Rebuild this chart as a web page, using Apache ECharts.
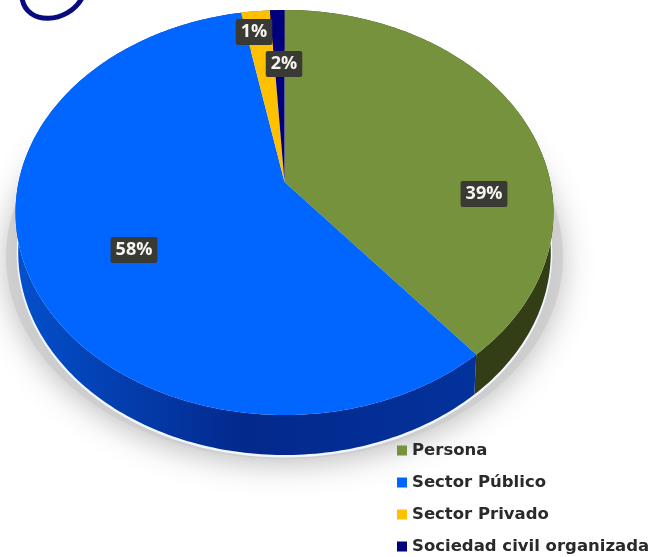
<!DOCTYPE html>
<html>
<head>
<meta charset="utf-8">
<style>html,body{margin:0;padding:0;background:#fff}#c{width:652px;height:557px;filter:blur(0.5px)}</style>
<script src="https://cdn.jsdelivr.net/npm/echarts@6/dist/echarts.min.js"></script>
</head>
<body>
<div id="c"></div>
<script>
const categories = ['Persona', 'Sector Público', 'Sector Privado', 'Sociedad civil organizada'];
// Wedge sizes as drawn in the picture (the yellow wedge is visibly wider than the navy one)
const values = [39, 58, 2, 1];
// Printed labels, as they read in the picture, in drawing order
const labels = ['39%', '58%', '1%', '2%'];
const faceColors = ['#76923c', '#0066ff', '#ffc000', '#00007f'];
const wallColors = ['#333d16', '#03329c', '#8a6a00', '#00003f'];

// Perspective view of the disc (layout only)
const view = { cx: 284.5, cy: 182, a: 265.9, b: 197.9, k: 0.1506, depth: 40, shrink: 0.99 };
const labelSpots = [[484, 194], [134, 250], [254, 32], [284, 64]];

const total = values.reduce((s, v) => s + v, 0);
const starts = [];
values.reduce((acc, v, i) => { starts[i] = acc; return acc + v; }, 0);

function project(deg, drop, scale) {
  const t = deg * Math.PI / 180, u = Math.sin(t), v = -Math.cos(t);
  const w = 1 - view.k * v;
  return [view.cx + scale * view.a * u / w, view.cy + view.b * v / w + drop];
}
function arc(from, to, drop, scale) {
  const pts = [], n = Math.max(2, Math.ceil(Math.abs(to - from)));
  for (let i = 0; i <= n; i++) pts.push(project(from + (to - from) * i / n, drop, scale));
  return pts;
}
function sliceAngles(i) {
  return [starts[i] / total * 360, (starts[i] + values[i]) / total * 360];
}

const shadowSeries = {
  type: 'custom', name: 'sombra', coordinateSystem: 'none', silent: true, z: 1,
  data: [[1]],
  renderItem: () => ({
    type: 'group',
    children: [
      { type: 'polygon', shape: { points: arc(0, 360, view.depth + 4, 1.035) },
        style: { fill: 'rgba(205,205,205,0.85)', shadowBlur: 30, shadowColor: 'rgba(175,175,175,0.95)', shadowOffsetY: 5 } },
      { type: 'polygon', shape: { points: arc(0, 360, view.depth + 1, view.shrink) },
        style: { fill: '#f2f6ff', stroke: '#f2f6ff', lineWidth: 3 } }
    ]
  })
};

const wallSeries = {
  type: 'custom', name: 'pared', coordinateSystem: 'none', silent: true, z: 2,
  data: values.map(v => [v]),
  renderItem: (params) => {
    const i = params.dataIndex, [s, e] = sliceAngles(i);
    const pts = arc(s, e, 0, 1).concat(arc(e, s, view.depth, view.shrink));
    return { type: 'polygon', shape: { points: pts },
      style: { fill: i === 1 ? {
        type: 'linear', x: 0, y: 0, x2: 1, y2: 0,
        colorStops: [{ offset: 0, color: '#0350cc' }, { offset: 0.5, color: '#03298c' }, { offset: 1, color: '#03329c' }]
      } : wallColors[i] } };
  }
};

const faceSeries = categories.map((name, i) => ({
  type: 'custom', name, coordinateSystem: 'none', z: 3,
  itemStyle: { color: faceColors[i] },
  data: [[values[i]]],
  renderItem: () => {
    const [s, e] = sliceAngles(i);
    const pts = [[view.cx, view.cy]].concat(arc(s, e, 0, 1));
    return { type: 'polygon', shape: { points: pts }, style: { fill: faceColors[i] } };
  }
}));

const labelSeries = {
  type: 'custom', name: 'etiquetas', coordinateSystem: 'none', silent: true, z: 4,
  data: values.map(v => [v]),
  renderItem: (params) => {
    const i = params.dataIndex;
    return { type: 'text', x: labelSpots[i][0], y: labelSpots[i][1],
      style: { text: labels[i], fill: '#f4f4f0', font: 'bold 18px "Open Sans"', align: 'center', verticalAlign: 'middle',
        backgroundColor: '#3a3a35', padding: [5, 5, 3, 5], borderRadius: 2 } };
  }
};

const chart = echarts.init(document.getElementById('c'), null, { renderer: 'canvas' });
chart.setOption({
  backgroundColor: '#ffffff',
  animation: false,
  legend: {
    data: categories, orient: 'vertical', left: 397, top: 441, height: 116, padding: 0,
    itemWidth: 10, itemHeight: 10, itemGap: 13, itemStyle: { borderWidth: 0 },
    icon: 'rect', selectedMode: false,
    textStyle: { color: '#2a2a2a', fontFamily: 'DejaVu Sans', fontWeight: 'bold', fontSize: 16.5, height: 19, lineHeight: 19, padding: [0, 0, 0, 0] }
  },
  graphic: [{
    type: 'bezierCurve', z: 10, silent: true,
    shape: { x1: 22, y1: -2, cpx1: 26, cpy1: 26, cpx2: 68, cpy2: 24, x2: 82, y2: -2 },
    style: { fill: 'none', stroke: '#0a0a80', lineWidth: 5 }
  }],
  series: [shadowSeries, wallSeries].concat(faceSeries, [labelSeries])
});
</script>
</body>
</html>
